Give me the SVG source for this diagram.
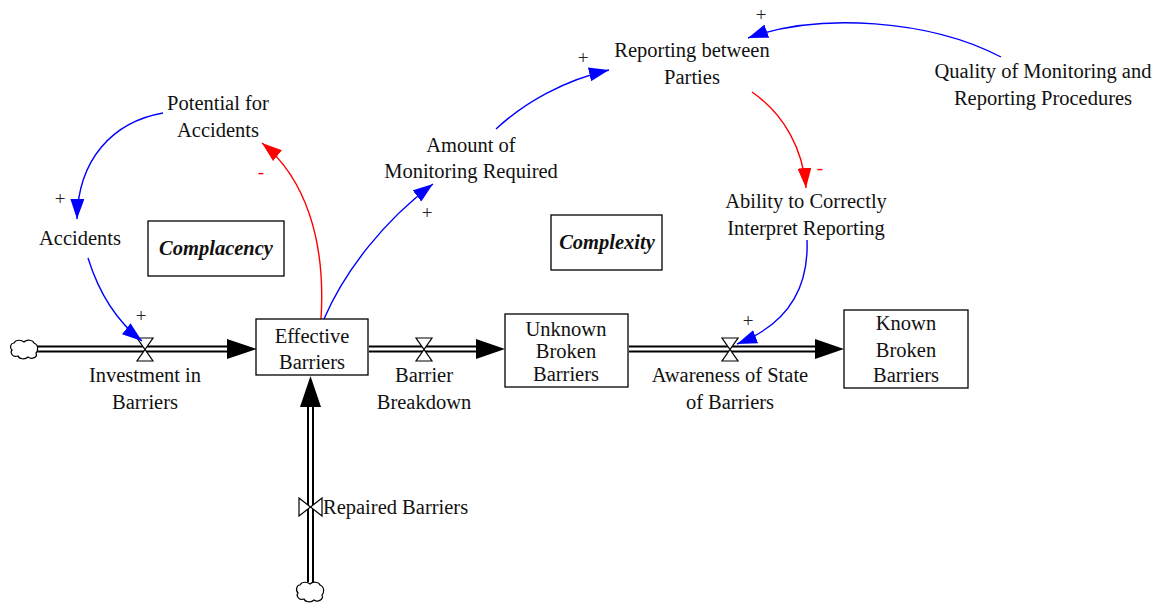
<svg xmlns="http://www.w3.org/2000/svg" width="1158" height="605" viewBox="0 0 1158 605" font-family="Liberation Serif, Times New Roman, DejaVu Serif, serif">
<style>
text{font-family:'Liberation Serif','Times New Roman','DejaVu Serif',serif;font-size:20.5px;fill:#111;text-anchor:middle}
.title{font-weight:bold;font-style:italic}
.box{fill:#fff;stroke:#000;stroke-width:1.3}
.pipeo{stroke:#000;stroke-width:7;fill:none}
.pipei{stroke:#fff;stroke-width:3;fill:none}
.valve{fill:#fff;stroke:#000;stroke-width:1.2}
.cloud{fill:#fff;stroke:#000;stroke-width:1.2}
.blue{stroke:#0000ff;stroke-width:1.4;fill:none}
.red{stroke:#ff0000;stroke-width:1.4;fill:none}
.pol{font-size:19px;fill:#222}
.neg{fill:#ff0000;font-size:19px}
</style>
<defs>
<marker id="ab" viewBox="0 0 20 14" refX="20" refY="7" markerWidth="20" markerHeight="14" markerUnits="userSpaceOnUse" orient="auto"><path d="M0,0 L20,7 L0,14 Z" fill="#0000ff"/></marker>
<marker id="ar" viewBox="0 0 20 14" refX="20" refY="7" markerWidth="20" markerHeight="14" markerUnits="userSpaceOnUse" orient="auto"><path d="M0,0 L20,7 L0,14 Z" fill="#ff0000"/></marker>
</defs>
<rect width="1158" height="605" fill="#fff"/>

<g id="connectors">
<g id="flow-investment">
<path class="pipeo" d="M37,349 H228"/><path class="pipei" d="M37,349 H229"/>
<path d="M227,339 L257,349 L227,359 Z" fill="#000"/>
<path class="valve" d="M137,338 H153 L137,361 H153 Z"/>
</g>
<g id="flow-breakdown">
<path class="pipeo" d="M369,349 H477"/><path class="pipei" d="M369,349 H478"/>
<path d="M476,339 L505,349 L476,359 Z" fill="#000"/>
<path class="valve" d="M416,338 H432 L416,361 H432 Z"/>
</g>
<g id="flow-awareness">
<path class="pipeo" d="M629,349 H816"/><path class="pipei" d="M629,349 H817"/>
<path d="M815,339 L844,349 L815,359 Z" fill="#000"/>
<path class="valve" d="M722,338 H738 L722,361 H738 Z"/>
</g>
<g id="flow-repaired">
<path class="pipeo" d="M310.5,582 V405"/><path class="pipei" d="M310.5,582 V404"/>
<path d="M300,407 L310.5,376 L321,407 Z" fill="#000"/>
<path class="valve" d="M299,498 V516 L322,498 V516 Z"/>
</g>
<path class="blue" marker-end="url(#ab)" d="M163,113 C112,122 78,160 77,219"/>
<path class="blue" marker-end="url(#ab)" d="M88,258 C98,290 115,320 142,341"/>
<path class="red" marker-end="url(#ar)" d="M321,319 C326,240 305,178 262,143"/>
<path class="blue" marker-end="url(#ab)" d="M324,319 C345,270 385,220 433,184"/>
<path class="blue" marker-end="url(#ab)" d="M496,129 C525,102 565,80 609,70"/>
<path class="blue" marker-end="url(#ab)" d="M1001,57 C930,20 820,12 748,38"/>
<path class="red" marker-end="url(#ar)" d="M752,92 C785,115 803,150 806,188"/>
<path class="blue" marker-end="url(#ab)" d="M807,240 C809,290 786,325 737,344"/>
<text class="pol" x="60" y="205">+</text>
<text class="pol" x="141" y="322">+</text>
<text class="neg" x="261" y="178">-</text>
<text class="pol" x="427" y="219">+</text>
<text class="pol" x="583" y="64">+</text>
<text class="pol" x="761" y="21">+</text>
<text class="neg" x="820" y="174">-</text>
<text class="pol" x="748" y="327">+</text>
</g>

<g id="cloud-investment-source"><path class="cloud" d="M14,343 C16,339 22,340 24,342 C27,339 33,340 34,343 C39,345 38,351 36,353 C38,357 32,360 28,357 C25,360 19,359 18,356 C12,358 10,352 12,350 C9,347 11,343 14,343 Z"/></g>
<g id="cloud-repaired-source"><path class="cloud" d="M300,585 C302,581 308,582 310,584 C313,581 319,582 320,585 C325,587 324,593 322,595 C324,599 318,603 314,600 C311,603 305,602 304,599 C298,601 296,595 298,593 C295,590 297,585 300,585 Z"/></g>

<g id="investment-label"><text x="145" y="382">Investment in</text><text x="145" y="409">Barriers</text></g>
<g id="breakdown-label"><text x="424" y="382">Barrier</text><text x="424" y="409">Breakdown</text></g>
<g id="awareness-label"><text x="730" y="382">Awareness of State</text><text x="730" y="409">of Barriers</text></g>
<g id="repaired-label"><text x="323" y="514" style="text-anchor:start">Repaired Barriers</text></g>

<g id="effective-barriers"><rect class="box" x="256" y="319" width="112" height="56"/><text x="312" y="343">Effective</text><text x="312" y="369">Barriers</text></g>
<g id="unknown-broken-barriers"><rect class="box" x="505" y="314" width="123" height="73"/><text x="566" y="336">Unknown</text><text x="566" y="358">Broken</text><text x="566" y="381">Barriers</text></g>
<g id="known-broken-barriers"><rect class="box" x="844" y="310" width="124" height="78"/><text x="906" y="330">Known</text><text x="906" y="357">Broken</text><text x="906" y="382">Barriers</text></g>

<g id="potential-for-accidents"><text x="218" y="110">Potential for</text><text x="218" y="137">Accidents</text></g>
<g id="accidents"><text x="80" y="245">Accidents</text></g>
<g id="amount-of-monitoring"><text x="471" y="152">Amount of</text><text x="471" y="178">Monitoring Required</text></g>
<g id="reporting-between-parties"><text x="692" y="57">Reporting between</text><text x="692" y="84">Parties</text></g>
<g id="quality-of-monitoring"><text x="1043" y="78">Quality of Monitoring and</text><text x="1043" y="105">Reporting Procedures</text></g>
<g id="ability-to-interpret"><text x="806" y="208">Ability to Correctly</text><text x="806" y="235">Interpret Reporting</text></g>

<g id="complacency"><rect class="box" x="148" y="221" width="136" height="55"/><text class="title" x="216" y="255">Complacency</text></g>
<g id="complexity"><rect class="box" x="551" y="215" width="111" height="55"/><text class="title" x="607" y="249">Complexity</text></g>
</svg>
